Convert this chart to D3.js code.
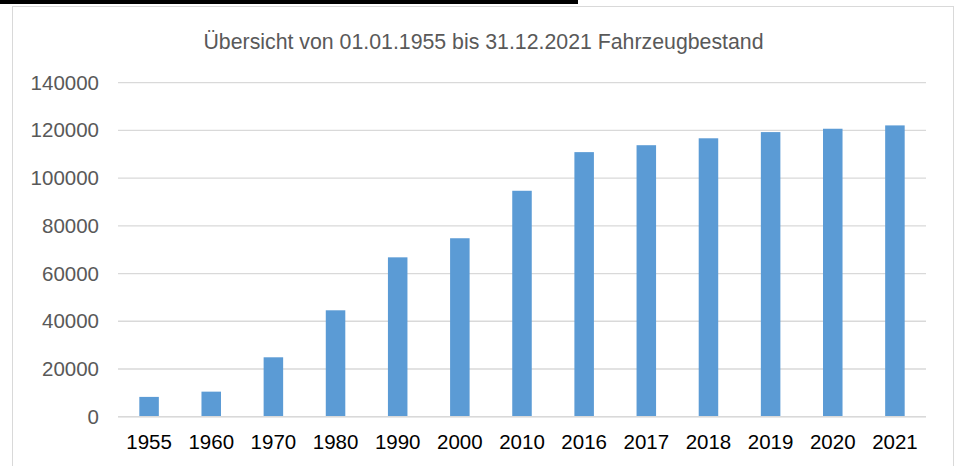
<!DOCTYPE html>
<html>
<head>
<meta charset="utf-8">
<script src="https://cdn.jsdelivr.net/npm/d3@7"></script>
<style>
  html, body { margin: 0; padding: 0; background: #fff; }
  svg { display: block; }
  text { font-family: "Liberation Sans", Arial, sans-serif; }
</style>
</head>
<body>
<svg id="chart" width="956" height="466"></svg>
<script>
// Fahrzeugbestand je Stichjahr
const years = ["1955", "1960", "1970", "1980", "1990", "2000", "2010", "2016", "2017", "2018", "2019", "2020", "2021"];
const vehicles = [8300, 10500, 24900, 44600, 66800, 74800, 94700, 110900, 113800, 116700, 119300, 120700, 122100];
const yTicks = [0, 20000, 40000, 60000, 80000, 100000, 120000, 140000];
const title = "Übersicht von 01.01.1955 bis 31.12.2021 Fahrzeugbestand";

const svg = d3.select("#chart");
const W = 956, H = 466;
const plot = { left: 118, right: 926, top: 82.7, bottom: 416.7 };

// Header strip and chart frame
svg.append("rect").attr("x", 0).attr("y", 0).attr("width", 578).attr("height", 4).attr("fill", "#000");
svg.append("rect")
  .attr("x", 12.5).attr("y", 6.5)
  .attr("width", 941).attr("height", H + 10)
  .attr("fill", "#fff").attr("stroke", "#d9d9d9").attr("stroke-width", 1);

const x = d3.scaleBand().domain(years).range([plot.left, plot.right]).paddingInner(0.686).paddingOuter(0.343);
const y = d3.scaleLinear().domain([0, 140000]).range([plot.bottom, plot.top]);

// Horizontal gridlines
svg.append("g")
  .selectAll("line")
  .data(yTicks)
  .join("line")
  .attr("x1", plot.left).attr("x2", plot.right)
  .attr("y1", d => y(d)).attr("y2", d => y(d))
  .attr("stroke", "#d9d9d9").attr("stroke-width", 1.3);

// Y axis labels
const yAxis = d3.axisLeft(y).tickValues(yTicks).tickSize(0).tickPadding(0).tickFormat(d3.format("d"));
svg.append("g")
  .attr("transform", `translate(99,0)`)
  .call(yAxis)
  .call(g => g.select(".domain").remove())
  .call(g => g.selectAll("text")
    .attr("font-family", "'Liberation Sans', Arial, sans-serif")
    .attr("font-size", 20.5)
    .attr("fill", "#595959"));

// Bars
svg.append("g")
  .selectAll("rect")
  .data(years.map((yr, i) => ({ yr, v: vehicles[i] })))
  .join("rect")
  .attr("x", d => x(d.yr))
  .attr("width", x.bandwidth())
  .attr("y", d => y(d.v))
  .attr("height", d => y(0) - y(d.v))
  .attr("fill", "#5b9bd5");

// Baseline
svg.append("line")
  .attr("x1", plot.left).attr("x2", plot.right)
  .attr("y1", y(0)).attr("y2", y(0))
  .attr("stroke", "#d9d9d9").attr("stroke-width", 1.5);

// X axis labels
const xAxis = d3.axisBottom(x).tickSize(0).tickPadding(0);
svg.append("g")
  .attr("transform", `translate(0,${y(0)})`)
  .call(xAxis)
  .call(g => g.select(".domain").remove())
  .call(g => g.selectAll("text")
    .attr("dy", null)
    .attr("y", 32.5)
    .attr("font-family", "'Liberation Sans', Arial, sans-serif")
    .attr("font-size", 20.5)
    .attr("fill", "#000"));

// Title
svg.append("text")
  .attr("x", 483.5).attr("y", 48.5)
  .attr("text-anchor", "middle")
  .attr("font-size", 21.3)
  .attr("fill", "#595959")
  .text(title);
</script>
</body>
</html>
